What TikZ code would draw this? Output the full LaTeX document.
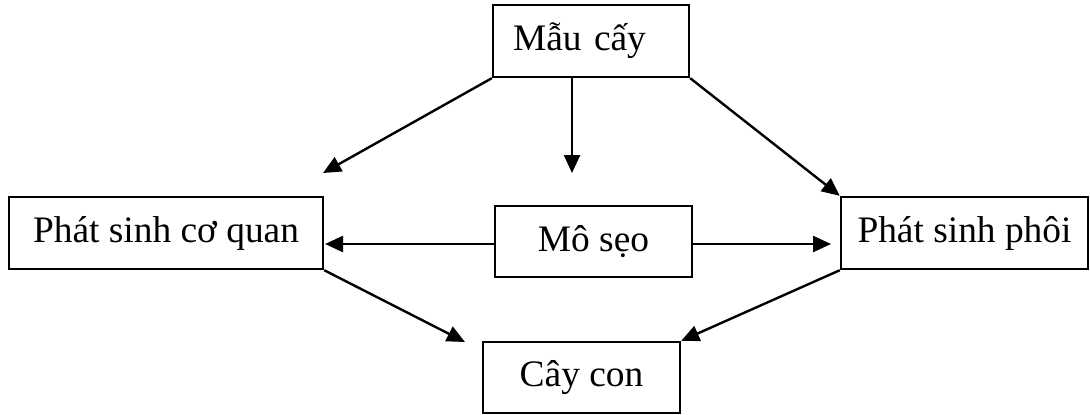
\documentclass[tikz,border=0pt]{standalone}
\usepackage{fontspec}
\setmainfont{Liberation Serif}
\usetikzlibrary{arrows.meta}
\begin{document}
\begin{tikzpicture}[x=0.5pt,y=-0.5pt,
  box/.style={draw, line width=1.2pt, inner sep=0pt, minimum height=36pt, font=\fontsize{18.7pt}{22pt}\selectfont},
  arr/.style={line width=1.2pt, -{Triangle[length=9pt,width=8pt]}}]
\useasboundingbox (0,0) rectangle (1090,414);
\node[box, text width=78pt, inner xsep=10pt, align=left] (mc) at (591,41) {Mẫu cấy};
\node[box, minimum width=157pt] (psq) at (166,233) {Phát sinh cơ quan};
\node[box, minimum width=98.5pt, minimum height=35.5pt] (ms) at (593.5,241.5) {Mô sẹo};
\node[box, minimum width=123.5pt] (psp) at (964.5,233) {Phát sinh phôi};
\node[box, minimum width=98.5pt, minimum height=35.5pt] (cc) at (581.5,377.5) {Cây con};
\coordinate (e1) at (323,173);
\coordinate (e2) at (572,173);
\coordinate (e4) at (325,244);
\coordinate (e5) at (831,244);
\coordinate (e6) at (465,342);
\draw[arr] (mc.south west) -- (e1);
\draw[arr] (mc.south -| e2) -- (e2);
\draw[arr] (mc.south east) -- (psp.north west);
\draw[arr] (ms.west |- e4) -- (e4);
\draw[arr] (ms.east |- e5) -- (e5);
\draw[arr] (psq.south east) -- (e6);
\draw[arr] (psp.south west) -- (cc.north east);
\end{tikzpicture}
\end{document}
